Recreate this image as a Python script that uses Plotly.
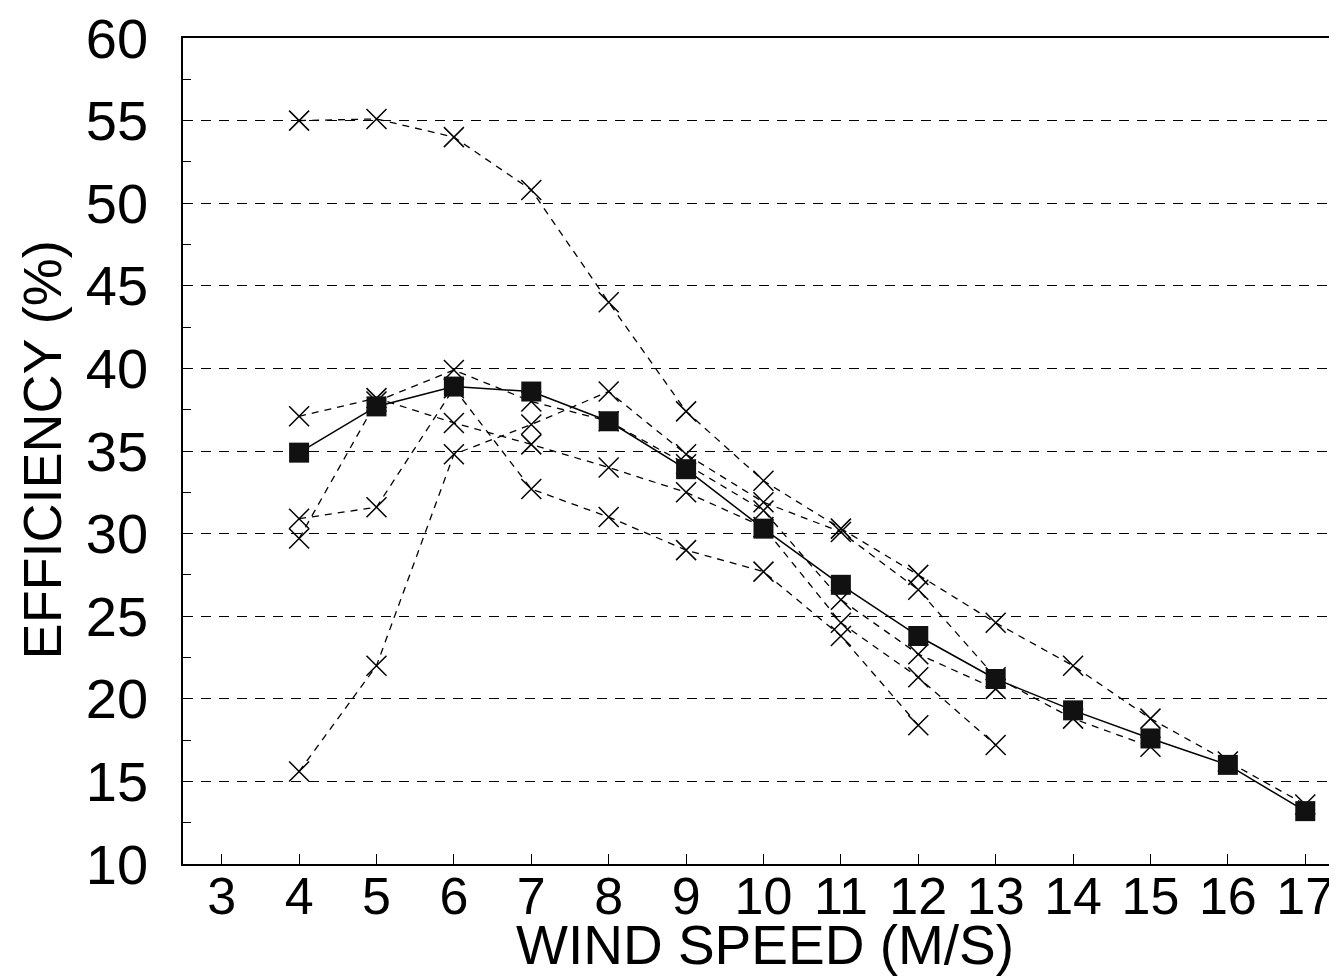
import plotly.graph_objects as go

# Wind speed (m/s)
wind_speed = [4, 5, 6, 7, 8, 9, 10, 11, 12, 13, 14, 15, 16, 17]

# Average efficiency (solid line, square markers)
mean_eff = [34.9, 37.7, 38.9, 38.6, 36.8, 33.9, 30.3, 26.9, 23.8, 21.2, 19.3, 17.6, 16.0, 13.2]

# Individual runs (dashed lines, x markers)
run_a_x = [4, 5, 6, 7, 8, 9, 10, 11, 12, 13, 14, 15, 16, 17]
run_a_y = [55.0, 55.1, 54.0, 50.8, 44.0, 37.4, 33.2, 30.3, 27.5, 24.6, 22.0, 18.8, 16.2, 13.6]

run_b_x = [4, 5, 6, 7, 8, 9, 10, 11, 12, 13]
run_b_y = [37.1, 38.2, 36.7, 35.4, 34.0, 32.5, 30.4, 24.6, 21.3, 17.2]

run_c_x = [4, 5, 6, 7, 8, 9, 10, 11, 12]
run_c_y = [30.9, 31.6, 38.8, 32.7, 31.0, 29.0, 27.7, 23.8, 18.4]

run_d_x = [4, 5, 6, 7, 8, 9, 10, 11, 12, 13]
run_d_y = [29.7, 38.0, 39.9, 38.0, 36.8, 34.2, 31.4, 26.0, 22.7, 20.6]

run_e_x = [4, 5, 6, 7, 8, 9, 10, 11, 12, 13, 14, 15]
run_e_y = [15.6, 22.0, 34.8, 36.6, 38.6, 34.8, 31.9, 30.1, 26.6, 21.3, 18.8, 17.1]

y_ticks = [10, 15, 20, 25, 30, 35, 40, 45, 50, 55, 60]
x_ticks = [3, 4, 5, 6, 7, 8, 9, 10, 11, 12, 13, 14, 15, 16, 17]

FONT = "Liberation Sans, Arial, Helvetica, sans-serif"

fig = go.Figure()

runs = [(run_a_x, run_a_y), (run_b_x, run_b_y), (run_c_x, run_c_y),
        (run_d_x, run_d_y), (run_e_x, run_e_y)]
for rx, ry in runs:
    fig.add_trace(go.Scatter(
        x=rx, y=ry, mode="lines+markers",
        line=dict(color="black", width=1.3, dash="7px,6px"),
        marker=dict(symbol="x-thin-open", size=20,
                    line=dict(color="black", width=1.5)),
        showlegend=False, hoverinfo="x+y"))

fig.add_trace(go.Scatter(
    x=wind_speed, y=mean_eff, mode="lines+markers",
    line=dict(color="black", width=1.5),
    marker=dict(symbol="square", size=20, color="#111111",
                line=dict(color="black", width=0)),
    showlegend=False))

fig.update_layout(
    width=1329, height=969,
    margin=dict(l=175, r=0, t=30, b=113),
    paper_bgcolor="white", plot_bgcolor="white",
    font=dict(family=FONT, color="black"),
    annotations=[
        dict(text="WIND SPEED (M/S)", xref="paper", yref="paper",
             x=0.504, y=-0.098, xanchor="center", yanchor="middle",
             showarrow=False, font=dict(size=55, family=FONT, color="black")),
        dict(text="EFFICIENCY (%)", xref="paper", yref="paper",
             x=-0.122, y=0.501, xanchor="center", yanchor="middle",
             textangle=-90, showarrow=False,
             font=dict(size=54, family=FONT, color="black")),
    ],
)

fig.update_xaxes(
    range=[2.5, 17.41], tickvals=x_ticks, ticktext=[str(v) for v in x_ticks],
    showline=True, linecolor="black", linewidth=1.5, mirror=True,
    ticks="inside", ticklen=10, tickcolor="black", tickwidth=1,
    showgrid=False, zeroline=False, automargin=False,
    tickfont=dict(size=52, family=FONT),
    ticklabelstandoff=-14, ticklabeloverflow="allow",
)

fig.update_yaxes(
    range=[10, 60], tickvals=y_ticks, ticktext=[str(v) for v in y_ticks],
    showline=True, linecolor="black", linewidth=1.5,
    ticks="inside", ticklen=8, tickcolor="black", tickwidth=1,
    minor=dict(dtick=2.5, ticks="inside", ticklen=8, tickcolor="black", showgrid=False),
    showgrid=True, gridcolor="black", gridwidth=1.2, griddash="10px,8px",
    zeroline=False, automargin=False,
    tickfont=dict(size=56, family=FONT),
    ticklabelstandoff=22, ticklabeloverflow="allow",
)

fig.write_html("out.html")
